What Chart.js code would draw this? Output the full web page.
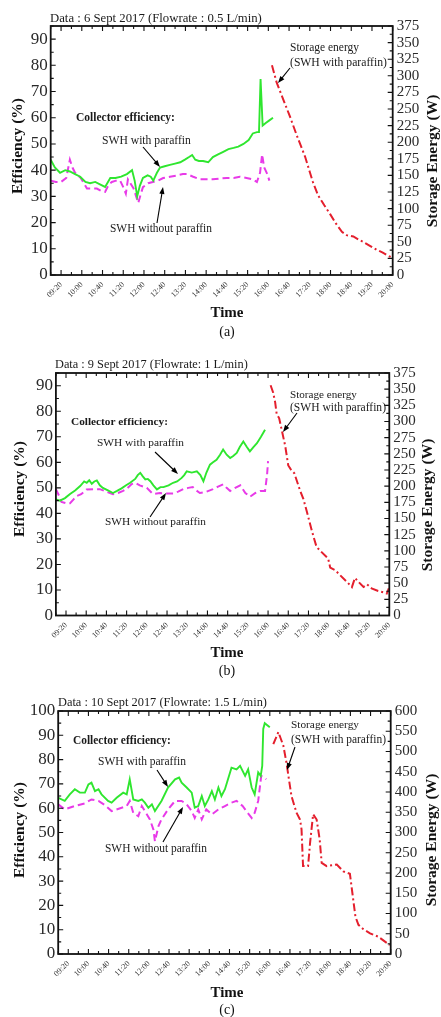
<!DOCTYPE html>
<html><head><meta charset="utf-8">
<script src="https://cdn.jsdelivr.net/npm/chart.js@4.4.0/dist/chart.umd.min.js"></script>
<style>
html,body{margin:0;padding:0;background:#fff;}
body{width:441px;height:1017px;position:relative;overflow:hidden;}
canvas{position:absolute;left:0;}
</style></head><body>
<canvas id="ca" width="441" height="339" style="top:0px"></canvas>
<canvas id="cb" width="441" height="339" style="top:339px"></canvas>
<canvas id="cc" width="441" height="339" style="top:678px"></canvas>
<script>
// ---------- tick labels ----------
const timeTickLabels = ['09:20','10:00','10:40','11:20','12:00','12:40','13:20','14:00','14:40','15:20','16:00','16:40','17:20','18:00','18:40','19:20','20:00'];
const effTicksAB = [0,10,20,30,40,50,60,70,80,90];
const effTicksC = [0,10,20,30,40,50,60,70,80,90,100];
const energyTicksAB = [0,25,50,75,100,125,150,175,200,225,250,275,300,325,350,375];
const energyTicksC = [0,50,100,150,200,250,300,350,400,450,500,550,600];

// ---------- panel (a) : 6 Sept 2017 ----------  (time in minutes after midnight)
const aWithTime = [540,548,558,568,577,587,597,607,616,626,636,645,655,665,676,687,697,702,707,712,718,727,733,738,745,751,760,770,780,790,799,807,813,819,826,834,844,853,863,873,883,893,902,912,922,930,938,942,945,949,955,962,969];
const aWithEff  = [44,41,39,40,39.5,38.5,37.5,35.5,35,35.5,34.5,33.6,37,37,37.5,38.5,40,36,30,34,37,38,37.5,36,39,41,41.5,42,42.5,43,44,45,45.8,44,43.5,43.5,43,45,46,47,48,48.5,49,50,51.5,54,54.5,54.5,74.8,57,58,59,60];
const aWithoutTime = [540,550,560,570,577,582,587,598,610,620,629,638,645,652,658,666,674,680,685,689,700,709,714,718,728,737,747,757,770,784,795,803,815,828,840,853,866,880,893,905,918,930,938,944,948,952,958,962];
const aWithoutEff  = [36,35.5,35.5,37,44,41,39,37,33,33,33,32,31.7,34.5,35.5,36,36,33.5,31,36.5,33,27.5,31,33.5,35,35.5,36,37,37.5,38,38.5,38.5,37.5,36.5,36.5,36.5,36.8,37,37,37.5,37,36.5,35.5,39,46,41,38.5,36];
const aStorageTime = [967,976,990,1002,1015,1031,1040,1046,1056,1068,1079,1090,1102,1111,1124,1135,1143,1156,1169,1180,1189,1199];
const aStorageW    = [316,290,262,238,210,178,155,140,120,105,92,78,65,60,58,53,50,44,38,34,30,26];

// ---------- panel (b) : 9 Sept 2017 ----------
const bWithTime = [540,548,558,568,578,588,596,601,606,611,616,621,627,633,643,653,661,670,679,687,697,702,707,712,717,722,727,733,740,747,753,763,772,780,789,794,799,809,819,826,832,838,845,851,858,865,871,878,885,891,898,904,911,918,924,931,938,946,954];
const bWithEff  = [45.5,45,46,47.6,49,50.7,52.5,52,53,51.6,52.5,52.9,51,50,49,48,48.8,49.8,51,52,53.5,55,55.9,54.5,53.3,53.5,52.6,51,49.4,50.3,50.3,51,52,52.5,53.9,55,56.5,56,56.5,55,52.6,56,59.1,60,61,63,65,63,61.7,62.5,63.7,66,68.2,66,64.3,66,67.5,70,72.8];
const bWithoutTime = [540,546,551,560,568,575,581,590,601,614,627,640,653,663,673,681,690,697,706,720,732,746,759,772,782,792,802,811,818,825,838,851,861,871,878,885,895,905,915,924,935,945,954,958,960];
const bWithoutEff  = [49.5,47,44.5,44,44,45.5,46.8,47.5,49.4,49.5,49.5,48.5,47.5,48,48.8,49.8,51.5,52,51,50,47.6,48,47.8,47.8,48.5,49.5,50,50.3,49,48,48.5,49.5,50.5,51.4,50,48.8,50,51,48,46.5,48,48.8,48.8,55,60.5];
const bStorageTime = [965,970,974,977,982,987,994,1000,1005,1012,1023,1030,1037,1047,1056,1066,1079,1083,1093,1103,1116,1126,1132,1139,1149,1156,1165,1178,1188,1195,1199];
const bStorageW    = [356,345,330,312,305,287,262,232,226,220,194,180,160,130,106,98,88,74,70,62,52,44,58,52,44,48,42,38,36,34,42];

// ---------- panel (c) : 10 Sept 2017 ----------
const cWithTime = [540,553,563,573,583,593,600,606,613,620,626,639,646,656,669,676,682,689,699,706,712,719,726,732,745,758,772,780,785,795,805,811,818,825,831,838,845,851,858,864,871,884,894,901,911,917,924,930,937,942,945,947,950,960];
const cWithEff  = [64.3,63,65.7,67.8,66.4,66.4,69.8,70.5,67,67.8,65.7,63,62.3,64.3,66.4,65.7,71.9,63.6,63,63.6,62.3,60.2,61.6,58.8,63,68.5,71.9,72.6,70.5,68.5,66.4,60.2,60.9,65,60.9,63.6,67,63.6,68.5,65,67.8,76.7,76,77.4,73.3,76,68.5,65.7,74.7,73.3,77.4,92.6,95,93.3];
const cWithoutTime = [540,553,573,593,606,620,633,646,666,676,682,689,699,706,712,722,729,732,739,745,758,772,785,795,805,811,818,825,834,845,858,871,884,894,906,916,924,930,937,943,953];
const cWithoutEff  = [61.6,59.5,60.9,62,63.6,63,61.2,58.8,60.2,60.9,63,58.1,56.7,60.9,58.8,55.4,51.2,46.4,52.6,55.4,59.5,63,63,61.6,58.8,56,59.5,55.4,59.5,57.4,59.5,60.9,62.3,63,60.9,58.1,56,58.1,63,73.3,71.9];
const cStorageTime = [967,977,987,993,1003,1013,1020,1023,1026,1036,1040,1046,1053,1059,1063,1073,1093,1106,1119,1124,1130,1136,1145,1159,1175,1198];
const cStorageW    = [518,548,514,473,390,349,332,308,217,217,275,345,332,283,225,217,221,204,198,150,92,72,62,51,43,22];

// ---------- drawing ----------
const SERIF = '"Liberation Serif","Times New Roman",serif';
const toMin = s => { const [h,m] = s.split(':').map(Number); return h*60+m; };
const tickMinutes = timeTickLabels.map(toMin);
const pts = (t,v) => t.map((x,i) => ({x, y:v[i]}));

function fitText(ctx, text, x, y, w, weight, align){
  ctx.font = `${weight} 20px ${SERIF}`;
  const m = ctx.measureText(text).width;
  const size = 20*w/m;
  ctx.font = `${weight} ${size.toFixed(2)}px ${SERIF}`;
  ctx.textAlign = align || 'left'; ctx.textBaseline = 'middle';
  ctx.fillText(text, x, y);
}

const framePlugin = {
  id:'frame',
  afterDatasetsDraw(chart, args, o){
    const {ctx, chartArea:a, scales} = chart;
    ctx.save();
    ctx.strokeStyle = '#111';
    ctx.lineWidth = 1.1;
    ctx.beginPath();
    for (let v=540; v<=1200; v+=20){
      const px = scales.x.getPixelForValue(v);
      const L = tickMinutes.includes(v) ? 5 : 3;
      ctx.moveTo(px,a.bottom); ctx.lineTo(px,a.bottom-L);
      ctx.moveTo(px,a.top); ctx.lineTo(px,a.top+L);
    }
    for (let v=0; v<=o.yMax+0.01; v+=o.yStep/2){
      const py = scales.y.getPixelForValue(v);
      const L = (Math.abs(v % o.yStep) < 0.01) ? 5 : 3;
      ctx.moveTo(a.left,py); ctx.lineTo(a.left+L,py);
    }
    for (let v=0; v<=o.y2Max+0.01; v+=o.y2Step/2){
      const py = scales.y2.getPixelForValue(v);
      const L = (Math.abs(v % o.y2Step) < 0.01) ? 5 : 3;
      ctx.moveTo(a.right,py); ctx.lineTo(a.right-L,py);
    }
    ctx.stroke();
    ctx.lineWidth = 1.8;
    ctx.strokeRect(a.left, a.top, a.right-a.left, a.bottom-a.top);
    ctx.restore();
  }
};

const notesPlugin = {
  id:'notes',
  afterDraw(chart, args, o){
    const ctx = chart.ctx, off = o.offset;
    ctx.save();
    ctx.fillStyle = '#1a1a1a';
    fitText(ctx, o.title[0], o.title[1], o.title[2]-off, o.title[3], 'normal');
    o.texts.forEach(t => fitText(ctx, t[0], t[1], t[2]-off, t[3], t[4]||'normal'));
    // arrows
    ctx.strokeStyle = '#000'; ctx.fillStyle = '#000'; ctx.lineWidth = 1.1;
    o.arrows.forEach(ar => {
      const [x1,y1,x2,y2] = [ar[0],ar[1]-off,ar[2],ar[3]-off];
      const ang = Math.atan2(y2-y1, x2-x1);
      ctx.beginPath(); ctx.moveTo(x1,y1); ctx.lineTo(x2-4*Math.cos(ang), y2-4*Math.sin(ang)); ctx.stroke();
      ctx.beginPath();
      ctx.moveTo(x2,y2);
      ctx.lineTo(x2-7*Math.cos(ang)+2.6*Math.sin(ang), y2-7*Math.sin(ang)-2.6*Math.cos(ang));
      ctx.lineTo(x2-7*Math.cos(ang)-2.6*Math.sin(ang), y2-7*Math.sin(ang)+2.6*Math.cos(ang));
      ctx.closePath(); ctx.fill();
    });
    ctx.fillStyle = '#111';
    // x title + caption
    ctx.font = `bold 15px ${SERIF}`; ctx.textAlign='center'; ctx.textBaseline='middle';
    ctx.fillText('Time', o.time[0], o.time[1]-off);
    ctx.font = `normal 14px ${SERIF}`;
    ctx.fillText(o.caption[0], o.caption[1], o.caption[2]-off);
    // rotated axis titles
    ctx.font = `bold 15.5px ${SERIF}`;
    ctx.save(); ctx.translate(o.eff[0], o.eff[1]-off); ctx.rotate(-Math.PI/2); ctx.fillText('Efficiency (%)',0,0); ctx.restore();
    ctx.save(); ctx.translate(o.se[0], o.se[1]-off); ctx.rotate(-Math.PI/2); ctx.fillText('Storage Energy (W)',0,0); ctx.restore();
    ctx.restore();
  }
};

function makeChart(id, p){
  const tickFont = {family:SERIF, size:8};
  new Chart(document.getElementById(id), {
    type:'line',
    data:{datasets:[
      {data:pts(p.wT,p.wV), borderColor:'#2fe62f', borderWidth:1.9, yAxisID:'y'},
      {data:pts(p.woT,p.woV), borderColor:'#e83ae8', borderWidth:2, borderDash:[7,4], yAxisID:'y'},
      {data:pts(p.sT,p.sV), borderColor:'#e41f2d', borderWidth:2, borderDash:[8,3,2,3], yAxisID:'y2'}
    ]},
    options:{
      responsive:false, animation:false, devicePixelRatio:1,
      elements:{point:{radius:0}, line:{tension:0, fill:false}},
      layout:{padding:{top:p.top, left:0, right:0, bottom:0}},
      plugins:{legend:{display:false}, tooltip:{enabled:false}, title:{display:false},
        frame:{yMax:p.yMax, yStep:10, y2Max:p.y2Max, y2Step:p.y2Step},
        notes:p.notes},
      scales:{
        x:{type:'linear', min:540, max:1200,
           afterBuildTicks:s=>{ s.ticks = tickMinutes.map(v=>({value:v})); },
           afterFit:s=>{ s.height = p.xh; },
           grid:{display:false, drawTicks:false}, border:{display:false},
           ticks:{autoSkip:false, minRotation:45, maxRotation:45, padding:5, color:'#333', font:tickFont,
                  callback:(v,i)=>timeTickLabels[i]}},
        y:{position:'left', min:0, max:p.yMax,
           afterBuildTicks:s=>{ s.ticks = p.yTicks.map(v=>({value:v})); },
           afterFit:s=>{ s.width = p.left; },
           grid:{display:false, drawTicks:false}, border:{display:false},
           ticks:{autoSkip:false, padding:3, color:'#2a2a2a', font:{family:SERIF, size:17}}},
        y2:{position:'right', min:0, max:p.y2Max,
           afterBuildTicks:s=>{ s.ticks = p.y2Ticks.map(v=>({value:v})); },
           afterFit:s=>{ s.width = 441 - p.right; },
           grid:{display:false, drawTicks:false}, border:{display:false},
           ticks:{autoSkip:false, padding:4, color:'#2a2a2a', font:{family:SERIF, size:p.y2Font}}}
      }
    },
    plugins:[framePlugin, notesPlugin]
  });
}

makeChart('ca', {wT:aWithTime, wV:aWithEff, woT:aWithoutTime, woV:aWithoutEff, sT:aStorageTime, sV:aStorageW,
  top:26, xh:339-275, left:50.7, right:392.7, yMax:95, yTicks:effTicksAB, y2Max:375, y2Step:25, y2Ticks:energyTicksAB, y2Font:15,
  notes:{offset:0, title:['Data : 6 Sept 2017 (Flowrate : 0.5 L/min)',50,19,212],
    texts:[['Collector efficiency:',76,118,99,'bold'],['SWH with paraffin',102,141,89],['SWH without paraffin',110,229,102],['Storage energy',290,48,69],['(SWH with paraffin)',290,63,97]],
    arrows:[[143,147,160,167],[157,223,163,187],[290,68,278,83]],
    time:[227,313], caption:['(a)',227,332], eff:[18,146], se:[433,161]}});

makeChart('cb', {wT:bWithTime, wV:bWithEff, woT:bWithoutTime, woV:bWithoutEff, sT:bStorageTime, sV:bStorageW,
  top:34, xh:339-276.5, left:55.9, right:389.3, yMax:95, yTicks:effTicksAB, y2Max:375, y2Step:25, y2Ticks:energyTicksAB, y2Font:15,
  notes:{offset:339, title:['Data : 9 Sept 2017 (Flowrate: 1 L/min)',55,365,193],
    texts:[['Collector efficiency:',71,422,97,'bold'],['SWH with paraffin',97,443,87],['SWH without paraffin',105,522,101],['Storage energy',290,395,67],['(SWH with paraffin)',290,408,96]],
    arrows:[[155,452,178,474],[150,517,166,493],[297,413,283,432]],
    time:[227,653], caption:['(b)',227,671], eff:[20,489], se:[428,505]}});

makeChart('cc', {wT:cWithTime, wV:cWithEff, woT:cWithoutTime, woV:cWithoutEff, sT:cStorageTime, sV:cStorageW,
  top:33, xh:339-276, left:58.2, right:390.7, yMax:100, yTicks:effTicksC, y2Max:600, y2Step:50, y2Ticks:energyTicksC, y2Font:15,
  notes:{offset:678, title:['Data : 10 Sept 2017 (Flowrate: 1.5 L/min)',58,703,209],
    texts:[['Collector efficiency:',73,741,98,'bold'],['SWH with paraffin',98,762,88],['SWH without paraffin',105,849,102],['Storage energy',291,725,68],['(SWH with paraffin)',291,740,95]],
    arrows:[[157,770,168,787],[163,842,183,807],[295,747,287,770]],
    time:[227,993], caption:['(c)',227,1010], eff:[20,830], se:[432,840]}});
</script>
</body></html>
